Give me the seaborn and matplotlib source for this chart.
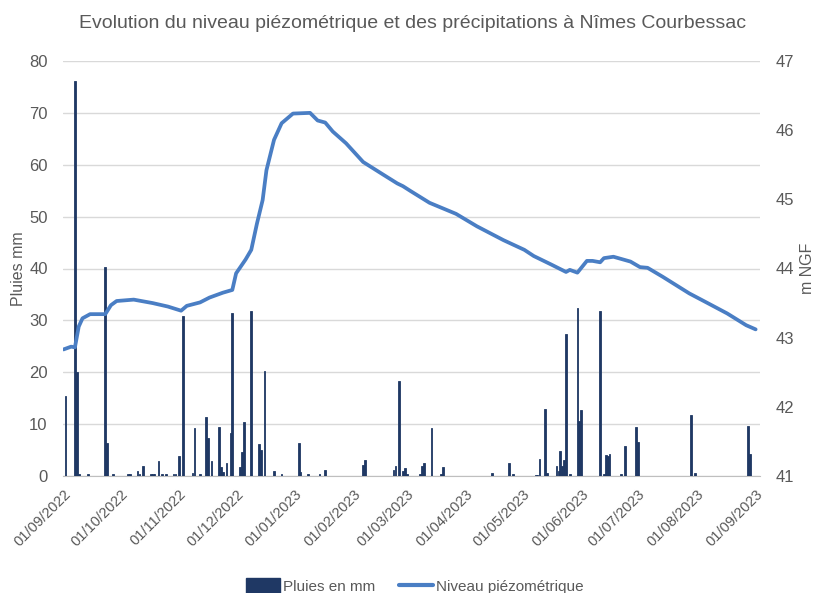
import numpy as np
import pandas as pd
import matplotlib.pyplot as plt
import matplotlib.dates as mdates
from matplotlib.patches import Patch
from matplotlib.lines import Line2D
import seaborn as sns

# pluies journalieres (mm)
rain_dates = ["2022-09-02", "2022-09-07", "2022-09-08", "2022-09-09", "2022-09-14",
              "2022-09-23", "2022-09-24", "2022-09-27", "2022-10-05", "2022-10-06",
              "2022-10-10", "2022-10-11", "2022-10-13", "2022-10-17", "2022-10-18",
              "2022-10-19", "2022-10-21", "2022-10-23", "2022-10-25", "2022-10-29",
              "2022-10-30", "2022-11-01", "2022-11-03", "2022-11-08", "2022-11-09",
              "2022-11-12", "2022-11-15", "2022-11-16", "2022-11-18", "2022-11-22",
              "2022-11-23", "2022-11-24", "2022-11-26", "2022-11-28", "2022-11-29",
              "2022-12-03", "2022-12-04", "2022-12-05", "2022-12-09", "2022-12-13",
              "2022-12-14", "2022-12-16", "2022-12-21", "2022-12-25", "2023-01-03",
              "2023-01-04", "2023-01-08", "2023-01-14", "2023-01-17", "2023-02-06",
              "2023-02-07", "2023-02-22", "2023-02-23", "2023-02-25", "2023-02-27",
              "2023-02-28", "2023-03-01", "2023-03-08", "2023-03-09", "2023-03-10",
              "2023-03-14", "2023-03-19", "2023-03-20", "2023-04-15", "2023-04-24",
              "2023-04-26", "2023-05-08", "2023-05-09", "2023-05-10", "2023-05-13",
              "2023-05-14", "2023-05-19", "2023-05-20", "2023-05-21", "2023-05-22",
              "2023-05-23", "2023-05-24", "2023-05-26", "2023-05-30", "2023-05-31",
              "2023-06-01", "2023-06-11", "2023-06-13", "2023-06-14", "2023-06-15",
              "2023-06-16", "2023-06-22", "2023-06-24", "2023-06-30", "2023-07-01",
              "2023-07-29", "2023-07-31", "2023-08-28", "2023-08-29"]
rain_mm = [15.5, 76.2, 20.0, 0.3, 0.3,
           40.3, 6.4, 0.4, 0.3, 0.3,
           1.0, 0.4, 1.9, 0.3, 0.3,
           0.3, 2.8, 0.3, 0.3, 0.4,
           0.4, 3.8, 30.9, 0.6, 9.2,
           0.3, 11.3, 7.4, 2.8, 9.4,
           1.7, 0.8, 2.5, 8.3, 31.5,
           1.7, 4.6, 10.5, 31.9, 6.2,
           5.1, 20.3, 1.0, 0.3, 6.4,
           0.8, 0.3, 0.3, 1.1, 2.2,
           3.0, 1.1, 1.9, 18.3, 0.9,
           1.5, 0.4, 0.4, 1.9, 2.6,
           9.3, 0.3, 1.7, 0.6, 2.6,
           0.4, 0.2, 0.2, 3.3, 12.9,
           0.6, 1.9, 0.9, 4.8, 1.9,
           3.1, 27.4, 0.4, 32.4, 10.6,
           12.8, 31.9, 0.3, 4.0, 3.8,
           4.3, 0.3, 5.8, 9.4, 6.6,
           11.7, 0.6, 9.7, 4.3]

# niveau piezometrique (m NGF)
level_dates = ["2022-09-01", "2022-09-05", "2022-09-07", "2022-09-09", "2022-09-11",
               "2022-09-15", "2022-09-23", "2022-09-26", "2022-09-29", "2022-10-08",
               "2022-10-18", "2022-10-26", "2022-11-02", "2022-11-05", "2022-11-12",
               "2022-11-17", "2022-11-24", "2022-11-29", "2022-12-01", "2022-12-06",
               "2022-12-09", "2022-12-12", "2022-12-15", "2022-12-17", "2022-12-21",
               "2022-12-25", "2022-12-31", "2023-01-09", "2023-01-13", "2023-01-17",
               "2023-01-21", "2023-01-28", "2023-02-06", "2023-02-17", "2023-02-24",
               "2023-02-27", "2023-03-03", "2023-03-13", "2023-03-27", "2023-04-07",
               "2023-04-21", "2023-05-02", "2023-05-07", "2023-05-16", "2023-05-24",
               "2023-05-26", "2023-05-30", "2023-06-04", "2023-06-07", "2023-06-11",
               "2023-06-13", "2023-06-18", "2023-06-27", "2023-07-02", "2023-07-06",
               "2023-07-14", "2023-07-28", "2023-08-06", "2023-08-17", "2023-08-27",
               "2023-09-01"]
level_m = [42.83, 42.87, 42.86, 43.16, 43.28,
           43.34, 43.34, 43.47, 43.53, 43.55,
           43.50, 43.45, 43.39, 43.46, 43.51,
           43.58, 43.65, 43.69, 43.93, 44.13,
           44.27, 44.65, 44.99, 45.42, 45.86,
           46.10, 46.24, 46.25, 46.14, 46.11,
           45.98, 45.81, 45.54, 45.35, 45.23,
           45.19, 45.12, 44.95, 44.79, 44.61,
           44.41, 44.27, 44.18, 44.06, 43.95,
           43.98, 43.94, 44.11, 44.11, 44.09,
           44.15, 44.17, 44.10, 44.02, 44.01,
           43.88, 43.64, 43.51, 43.35, 43.18,
           43.12]

rain = pd.DataFrame({"date": pd.to_datetime(rain_dates), "pluie": rain_mm})
level = pd.DataFrame({"date": pd.to_datetime(level_dates), "niveau": level_m})

sns.set_style("white")
plt.rcParams["font.family"] = ["Liberation Sans", "DejaVu Sans"]

gray = "#595959"
navy = "#1F3864"
blue = "#4A7EC4"

fig = plt.figure(figsize=(8.15, 5.93), dpi=100)
ax = fig.add_axes([63 / 815, 1 - 476 / 593, 697 / 815, 415 / 593])
ax2 = ax.twinx()

ax.bar(rain["date"], rain["pluie"], width=0.9, color=navy, edgecolor=navy,
       linewidth=0.6, zorder=3)
sns.lineplot(data=level, x="date", y="niveau", ax=ax2, color=blue, lw=2.7)

start = pd.Timestamp("2022-09-01")
ax.set_xlim(start - pd.Timedelta(hours=7), start + pd.Timedelta(days=367.3))
ax.set_ylim(0, 80)
ax.set_yticks(np.arange(0, 81, 10))
ax2.set_ylim(41, 47)
ax2.set_yticks(np.arange(41, 48, 1))

ax.grid(axis="y", color="#D9D9D9", lw=1)
ax.set_axisbelow(True)
for a in (ax, ax2):
    for s in ["top", "left", "right", "bottom"]:
        a.spines[s].set_visible(False)
ax.spines["bottom"].set_visible(True)
ax.spines["bottom"].set_color("#BFBFBF")

ax.xaxis.set_major_locator(mdates.MonthLocator(bymonthday=1))
ax.xaxis.set_major_formatter(mdates.DateFormatter("%d/%m/%Y"))
ax.tick_params(axis="x", length=5, color="#BFBFBF", labelsize=10.5, labelcolor=gray, pad=3)
for lab in ax.get_xticklabels():
    lab.set_rotation(45)
    lab.set_ha("right")
    lab.set_rotation_mode("anchor")
ax.tick_params(axis="y", length=0, labelsize=12, labelcolor=gray, pad=11)
ax2.tick_params(axis="y", length=0, labelsize=12, labelcolor=gray, pad=11.5)

ax.set_xlabel("")
ax2.set_xlabel("")
ax.set_ylabel("Pluies mm", fontsize=11.5, color=gray, labelpad=2)
ax2.set_ylabel("m NGF", fontsize=11.5, color=gray, rotation=90, labelpad=4)

fig.suptitle("Evolution du niveau piézométrique et des précipitations à Nîmes Courbessac",
             x=0.506, y=1 - 23 / 593, va="center", fontsize=14, color=gray)

handles = [Patch(facecolor=navy, edgecolor=navy),
           Line2D([0], [0], color=blue, lw=3)]
fig.legend(handles, ["Pluies en mm", "Niveau piézométrique"], loc="center",
           bbox_to_anchor=(0.509, 1 - 586 / 593), ncol=2, frameon=False,
           fontsize=11, labelcolor=gray, handlelength=2.2, handleheight=1.1,
           handletextpad=0.2, columnspacing=1.6)

fig.savefig("out.png", dpi=100)
